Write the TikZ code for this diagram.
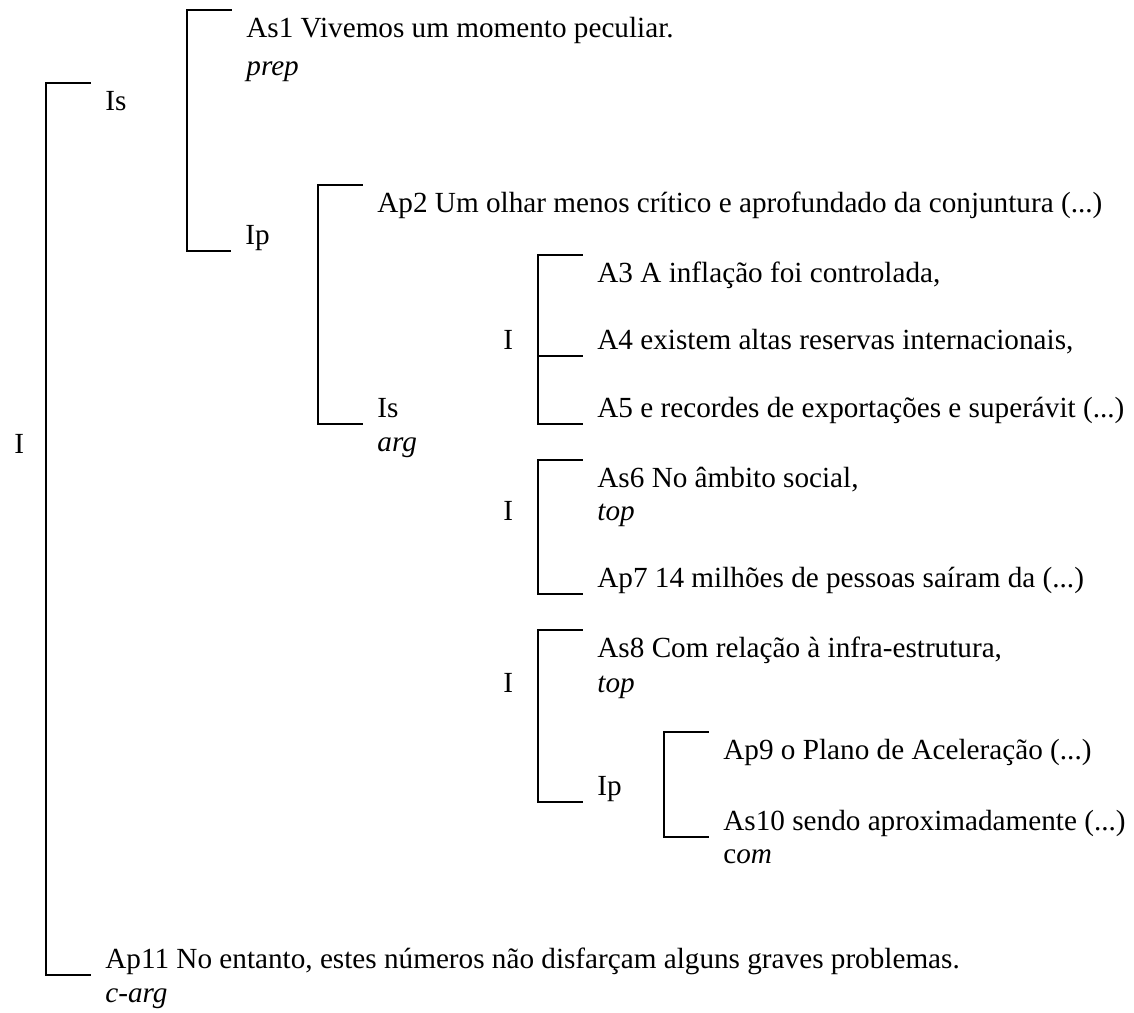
\documentclass[tikz,border=0pt]{standalone}
\usepackage{fontspec}
\setmainfont{Liberation Serif}
\usepackage{tikz}
\usetikzlibrary{calc}
% bracket from the top child down to the bottom child
\def\brak(#1)(#2){\draw[brk] ([shift={(-15,-27)}]#1.base west) -- ++(-44,0) |- ([shift={(-15,7)}]#2.base west);}
% extra tick for a child in the middle
\def\midtick(#1){\draw[brk] ([shift={(-15,7)}]#1.base west) -- ++(-44,0);}

\begin{document}
\begin{tikzpicture}[x=0.5pt, y=-0.5pt,
	lbl/.style={anchor=base west, inner sep=0pt, font=\fontsize{14.6}{16}\selectfont},
	brk/.style={line width=1pt, line cap=rect}]
		%%%%% START %%%%%
		\useasboundingbox (0, 0) rectangle (1134, 1012);
		
		\node[lbl] (rootI) at (14, 453) {I};
		\node[lbl] (is1) at (105, 110) {Is};
		
		\node[lbl] (as1) at (246, 37) {As1 Vivemos um momento peculiar.};
		\node[lbl] (prep) at (246, 75) {\textit{prep}};
		\node[lbl] (ip1) at (245, 244) {Ip};
		
		\node[lbl] (ap2) at (377, 212) {Ap2 Um olhar menos crítico e aprofundado da conjuntura (...)};
		\node[lbl] (is2) at (377, 417) {Is};
		\node[lbl] (arg) at (377, 451) {\textit{arg}};
		
		\node[lbl] (i3) at (503, 349) {I};
		\node[lbl] (a3) at (597, 282) {A3 A inflação foi controlada,};
		\node[lbl] (a4) at (597, 349) {A4 existem altas reservas internacionais,};
		\node[lbl] (a5) at (597, 417) {A5 e recordes de exportações e superávit (...)};
		
		\node[lbl] (i4) at (503, 520) {I};
		\node[lbl] (as6) at (597, 487) {As6 No âmbito social,};
		\node[lbl] (top6) at (597, 520) {\textit{top}};
		\node[lbl] (ap7) at (597, 587) {Ap7 14 milhões de pessoas saíram da (...)};
		
		\node[lbl] (i5) at (503, 692) {I};
		\node[lbl] (as8) at (597, 657) {As8 Com relação à infra-estrutura,};
		\node[lbl] (top8) at (597, 692) {\textit{top}};
		\node[lbl] (ip5) at (597, 795) {Ip};
		
		\node[lbl] (ap9) at (723, 759) {Ap9 o Plano de Aceleração (...)};
		\node[lbl] (as10) at (723, 830) {As10 sendo aproximadamente (...)};
		\node[lbl] (com) at (723, 863) {c\textit{om}};
		
		\node[lbl] (ap11) at (105, 968) {Ap11 No entanto, estes números não disfarçam alguns graves problemas.};
		\node[lbl] (carg) at (105, 1002) {\textit{c-arg}};
		
		% brackets
		\brak(is1)(ap11)
		\brak(as1)(ip1)
		\brak(ap2)(is2)
		\brak(a3)(a5)
		\midtick(a4)
		\brak(as6)(ap7)
		\brak(as8)(ip5)
		\brak(ap9)(as10)
		
		%%%%% END %%%%%
	\end{tikzpicture}
\end{document}
